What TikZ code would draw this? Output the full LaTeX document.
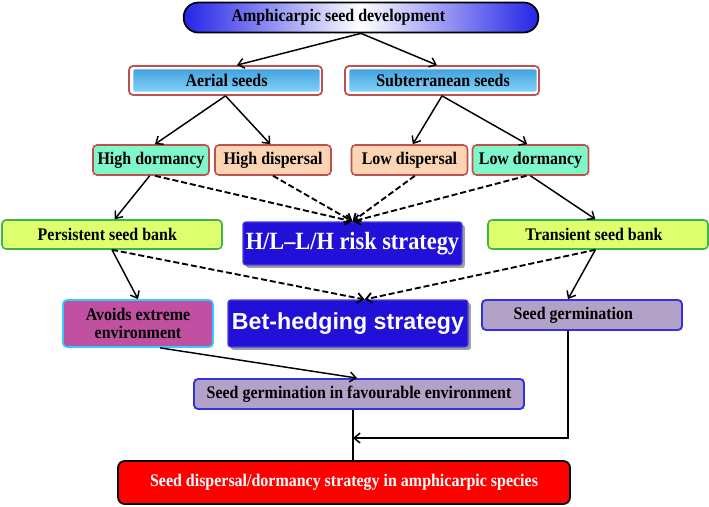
\documentclass[tikz,border=0pt]{standalone}
\usepackage{fontspec}
\setmainfont{Liberation Serif}[FakeStretch=0.9]
\newfontfamily\betfont{Liberation Sans}
\usepackage{xcolor}
\usetikzlibrary{arrows.meta,shadows,positioning}

\definecolor{topblue}{RGB}{36,36,232}
\definecolor{skytop}{RGB}{66,162,222}
\definecolor{skybot}{RGB}{132,210,248}
\definecolor{framered}{RGB}{192,80,77}
\definecolor{mint}{RGB}{128,247,200}
\definecolor{peach}{RGB}{251,212,180}
\definecolor{lime}{RGB}{222,255,110}
\definecolor{bankgreen}{RGB}{60,180,75}
\definecolor{stratblue}{RGB}{32,16,216}
\definecolor{plum}{RGB}{192,80,160}
\definecolor{cyanedge}{RGB}{51,204,255}
\definecolor{lilac}{RGB}{179,162,199}
\definecolor{edgeblue}{RGB}{51,51,221}

\begin{document}
\begin{tikzpicture}[
    % GLOBAL CFG
    x=0.75pt, y=-0.75pt,
    font=\fontsize{13.3}{13.5}\selectfont\bfseries,
    >={Straight Barb[length=4.5pt,width=7.5pt]},
    % Styles
    topbox/.style={% For the starting pill
        rectangle,
        rounded corners=11pt,
        draw=black,
        line width=1.3pt,
        left color=topblue, right color=topblue, middle color=white,
        minimum width=266pt, minimum height=22.5pt,
        inner sep=0pt,
        },
    seedframe/.style={% Red frame round the seed types
        rectangle,
        rounded corners=3pt,
        draw=framered,
        line width=1.3pt,
        fill=white,
        minimum height=21.75pt,
        inner sep=0pt,
        },
    seedbox/.style={% Blue inner box
        rectangle,
        rounded corners=1.5pt,
        draw=white, line width=0.4pt,
        top color=skytop, bottom color=skybot,
        minimum height=17.25pt,
        inner sep=0pt,
        },
    trait/.style={% For dormancy and dispersal
        rectangle,
        rounded corners=3pt,
        draw=framered,
        line width=1.2pt,
        minimum width=87pt, minimum height=22.5pt,
        inner sep=0pt,
        },
    bank/.style={% For the seed banks
        rectangle,
        rounded corners=3pt,
        draw=bankgreen,
        line width=1.2pt,
        fill=lime,
        minimum width=165pt, minimum height=21.75pt,
        inner sep=0pt,
        },
    strat/.style={% For the strategies
        rectangle,
        rounded corners=2pt,
        draw=stratblue!80!white,
        line width=0.8pt,
        fill=stratblue,
        text=white,
        drop shadow={shadow xshift=2.2pt, shadow yshift=-2.2pt, fill=gray!75, opacity=1},
        inner sep=0pt,
        },
    germ/.style={% For the germination boxes
        rectangle,
        rounded corners=3pt,
        draw=edgeblue,
        line width=1.4pt,
        fill=lilac,
        minimum height=22.5pt,
        inner sep=0pt,
        },
    ArrowS/.style={% Plain arrows
        ->,
        line width=1.1pt,
        },
    ArrowD/.style={% Dashed arrows
        ->,
        line width=1.4pt,
        dash pattern=on 4.5pt off 2.2pt,
        },
    ]

    \useasboundingbox (0,0) rectangle (709,506);

    % Draw the top pill (text sits left of centre)
    \node [topbox] (top) at (361,17.5) {Amphicarpic seed development\hspace*{34pt}};

    % Draw the seed types: frame first, then the blue box
    \node [seedframe, minimum width=144.75pt] (aerialbox) at (225.5,80.5) {};
    \node [seedbox, minimum width=140.25pt] (aerial) at (226.5,80.5) {Aerial seeds};
    \node [seedframe, minimum width=145.5pt] (subterbox) at (442,80.5) {};
    \node [seedbox, minimum width=141pt] (subter) at (443,80.5) {Subterranean seeds};

    % Draw dormancy and dispersal
    \node [trait, fill=mint] (hdorm) at (151,160) {High dormancy};
    \node [trait, fill=peach] (hdisp) at (273,160) {High dispersal};
    \node [trait, fill=peach] (ldisp) at (409.5,160) {Low dispersal};
    \node [trait, fill=mint] (ldorm) at (530.5,160) {Low dormancy};

    % Draw seed banks and first strategy
    \node [bank] (persist) at (112,234.5) {Persistent seed bank\hspace*{7pt}};
    \node [strat, minimum width=164.25pt, minimum height=32.25pt] (hl) at (352.5,243.5)
        {\fontsize{18.6}{20}\selectfont H/L--L/H risk strategy};
    \node [bank] (transient) at (598,234.5) {Transient seed bank\hspace*{6pt}};

    % Draw third row
    \node [rectangle, rounded corners=3pt, draw=cyanedge, line width=1.3pt, fill=plum,
        minimum width=112.5pt, minimum height=35.25pt, inner sep=0pt, align=center]
        (avoid) at (138,323.5) {Avoids extreme\\environment};
    \node [strat, minimum width=180pt, minimum height=35.25pt] (bet) at (348,323.5)
        {\betfont\fontsize{17.4}{19}\selectfont Bet-hedging strategy};
    \node [germ, minimum width=150pt] (sgerm) at (582,315) {Seed germination\hspace*{13pt}};

    % Draw lower boxes
    \node [germ, minimum width=247.5pt] (fav) at (359,394)
        {Seed germination in favourable environment};
    \node [rectangle, rounded corners=5pt, draw=black, line width=1.3pt, fill=red,
        text=white, minimum width=339pt, minimum height=32.25pt, inner sep=0pt]
        (final) at (344,482.5) {Seed dispersal/dormancy strategy in amphicarpic species};
    \coordinate (join) at (353,438);

    % Start connecting all.
    \draw [ArrowS] (top.south) -- ([xshift=8.6pt]aerialbox.north);
    \draw [ArrowS] (top.south) -- ([xshift=-3.8pt]subterbox.north);
    \draw [ArrowS] (aerialbox.south) -- ([xshift=3pt]hdorm.north);
    \draw [ArrowS] (aerialbox.south) -- ([xshift=-2pt]hdisp.north);
    \draw [ArrowS] (subterbox.south) -- ([xshift=2.5pt]ldisp.north);
    \draw [ArrowS] (subterbox.south) -- ([xshift=-2.5pt]ldorm.north);

    % Dashed arrows to the risk strategy
    \draw [ArrowD] ([xshift=3pt]hdorm.south) -- (hl.north);
    \draw [ArrowD] (hdisp.south) -- (hl.north);
    \draw [ArrowD] ([xshift=4pt]ldisp.south) -- (hl.north);
    \draw [ArrowD] ([xshift=-3pt]ldorm.south) -- (hl.north);

    % To the seed banks
    \draw [ArrowS] ([xshift=-1pt]hdorm.south) -- ([xshift=2pt]persist.north);
    \draw [ArrowS] (ldorm.south) -- ([xshift=-2pt]transient.north);

    % From the seed banks
    \draw [ArrowS] (persist.south) -- (avoid.north);
    \draw [ArrowD] (persist.south) -- ([xshift=12.5pt]bet.north);
    \draw [ArrowD] ([xshift=-2pt]transient.south) -- ([xshift=12.5pt]bet.north);
    \draw [ArrowS] ([xshift=-2pt]transient.south) -- ([xshift=-10.5pt]sgerm.north);

    %Outputs
    \draw [ArrowS] ([xshift=16.5pt]avoid.south) -- ([xshift=-1.5pt]fav.north);
    \draw [ArrowS] ([xshift=-10.5pt]sgerm.south) |- (join);
    \draw [line width=1.1pt] (fav.south -| join) -- (final.north -| join);

\end{tikzpicture}
\end{document}
